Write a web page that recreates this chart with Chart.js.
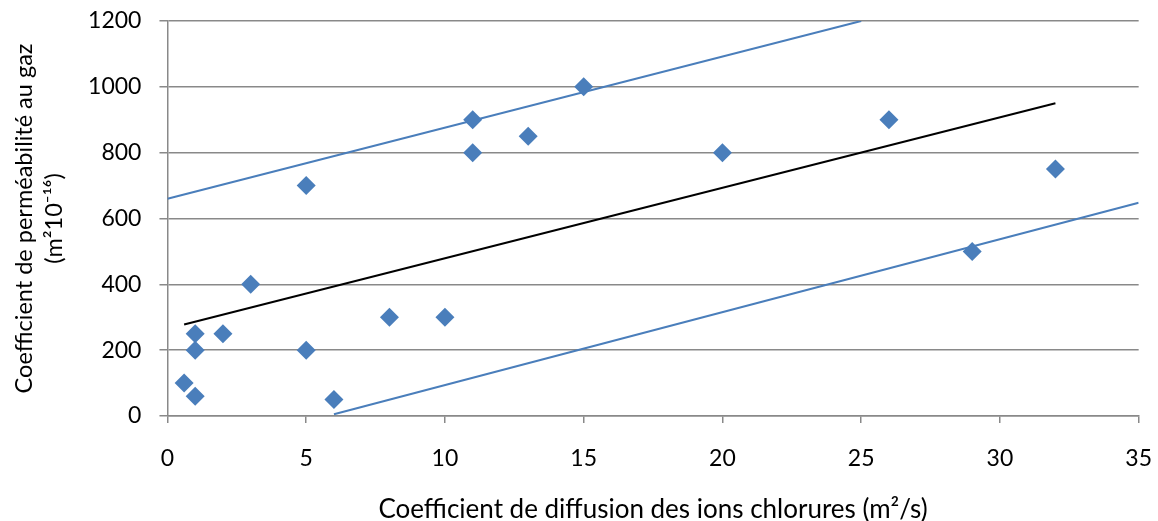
<!DOCTYPE html>
<html>
<head>
<meta charset="utf-8">
<script src="https://cdn.jsdelivr.net/npm/chart.js@4/dist/chart.umd.min.js"></script>
<style>
  html, body { margin: 0; padding: 0; background: #fff; }
  #wrap { width: 1158px; height: 521px; }
</style>
</head>
<body>
<div id="wrap"><canvas id="PermChart"></canvas></div>
<script>
// measured points (diffusion coef, permeability coef)
var diffusion = [0.6, 1, 1, 1, 2, 3, 5, 5, 6, 8, 10, 11, 11, 13, 15, 20, 26, 29, 32];
var permeability = [100, 60, 200, 250, 250, 400, 700, 200, 50, 300, 300, 900, 800, 850, 1000, 800, 900, 500, 750];

// line end points
var upperX = [0, 25];
var upperY = [660, 1200];
var fitX = [0.6, 32];
var fitY = [278, 950];
var lowerX = [6, 35];
var lowerY = [5, 648];

var xTicks = [0, 5, 10, 15, 20, 25, 30, 35];
var yTicks = [0, 200, 400, 600, 800, 1000, 1200];

function toPoints(xs, ys) {
  var pts = [];
  for (var i = 0; i < xs.length; i++) pts.push({x: xs[i], y: ys[i]});
  return pts;
}

var blue = "#4a7ebb";
var gridGray = "#898989";
var fontFamily = "Lato, 'Open Sans', sans-serif";

var ctx = document.getElementById("PermChart").getContext("2d");
var perm_chart = new Chart(ctx, {
  type: "scatter",
  data: {
    datasets: [
      {
        label: "Mesures",
        data: toPoints(diffusion, permeability),
        pointStyle: "rectRot",
        pointRadius: 9.5,
        pointHoverRadius: 9.5,
        backgroundColor: blue,
        borderColor: blue,
        borderWidth: 0,
        showLine: false
      },
      {
        label: "Limite haute",
        data: toPoints(upperX, upperY),
        showLine: true,
        borderColor: blue,
        borderWidth: 2,
        pointRadius: 0,
        fill: false
      },
      {
        label: "Tendance",
        data: toPoints(fitX, fitY),
        showLine: true,
        borderColor: "#000000",
        borderWidth: 2,
        pointRadius: 0,
        fill: false
      },
      {
        label: "Limite basse",
        data: toPoints(lowerX, lowerY),
        showLine: true,
        borderColor: blue,
        borderWidth: 2,
        pointRadius: 0,
        fill: false
      }
    ]
  },
  options: {
    responsive: true,
    maintainAspectRatio: false,
    animation: false,
    layout: {
      autoPadding: false,
      padding: { left: 9, right: 0, top: 0, bottom: 0 }
    },
    plugins: {
      legend: { display: false },
      tooltip: { enabled: false }
    },
    scales: {
      x: {
        type: "linear",
        min: 0,
        max: 35,
        afterBuildTicks: function(scale) {
          scale.ticks = xTicks.map(function(v) { return {value: v}; });
        },
        grid: {
          drawOnChartArea: false,
          drawTicks: true,
          tickLength: 7,
          color: gridGray,
          lineWidth: 1.5
        },
        border: { display: true, color: gridGray, width: 1.5 },
        ticks: {
          color: "#000",
          padding: 6,
          maxRotation: 0,
          callback: function(v) { return String(v); },
          font: { family: fontFamily, size: 23, lineHeight: 2.61 }
        },
        title: {
          display: true,
          text: "Coefficient de diffusion des ions chlorures (m²/s)",
          color: "#000",
          padding: { top: 4, bottom: 0 },
          font: { family: fontFamily, size: 26, lineHeight: 0.846 }
        }
      },
      y: {
        type: "linear",
        min: 0,
        max: 1200,
        afterBuildTicks: function(scale) {
          scale.ticks = yTicks.map(function(v) { return {value: v}; });
        },
        grid: {
          drawOnChartArea: true,
          drawTicks: true,
          tickLength: 8,
          color: gridGray,
          lineWidth: 1.5
        },
        border: { display: true, color: gridGray, width: 1.5 },
        ticks: {
          color: "#000",
          padding: 18,
          callback: function(v) { return String(v); },
          font: { family: fontFamily, size: 23, lineHeight: 0.26 }
        },
        title: {
          display: true,
          text: ["Coefficient de perméabilité au gaz", "(m²10⁻¹⁶)"],
          color: "#000",
          padding: { top: 0, bottom: 0 },
          font: { family: fontFamily, size: 23.5, lineHeight: 1.3 }
        }
      }
    }
  }
});
</script>
</body>
</html>
